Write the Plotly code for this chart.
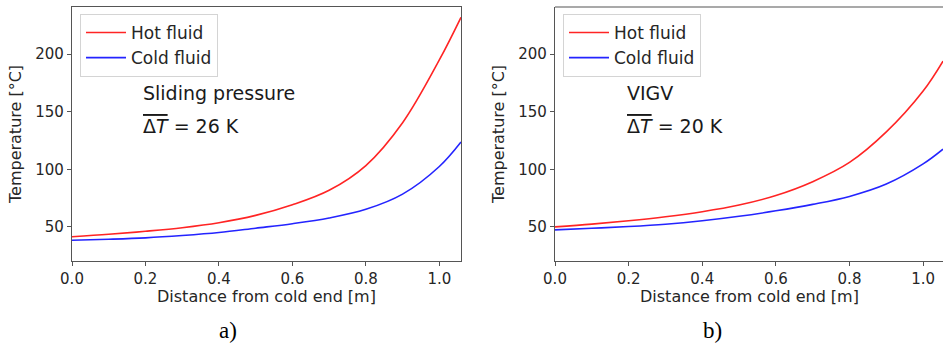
import plotly.graph_objects as go

# ---- data ----
x_a = [0.0, 0.1, 0.2, 0.3, 0.4, 0.5, 0.6, 0.7, 0.8, 0.9, 1.0, 1.059]
hot_a = [41.5, 43.6, 46.2, 49.3, 53.6, 60.0, 69.2, 81.8, 103.3, 140.5, 195.0, 232.0]
cold_a = [38.4, 39.3, 40.5, 42.5, 45.1, 48.9, 52.8, 57.8, 65.3, 78.5, 102.5, 123.8]

x_b = [0.0, 0.1, 0.2, 0.3, 0.4, 0.5, 0.6, 0.7, 0.8, 0.9, 1.0, 1.054]
hot_b = [50.0, 52.4, 55.3, 58.8, 63.2, 69.0, 77.3, 89.3, 106.0, 132.5, 168.0, 194.0]
cold_b = [47.4, 48.8, 50.3, 52.3, 55.3, 59.2, 64.0, 69.6, 76.5, 87.2, 104.7, 117.5]

labels = ["Sliding pressure", "VIGV"]
dt_vals = [26, 20]
panel_tags = ["a)", "b)"]
x_ticks = [0.0, 0.2, 0.4, 0.6, 0.8, 1.0]
y_ticks = [50, 100, 150, 200]
x_title = "Distance from cold end [m]"
y_title = "Temperature [°C]"

RED = "#ff2424"
BLUE = "#2424ff"
SPINE = "#555555"
TXT = "#262626"
FONT = "DejaVu Sans"

W, H = 943, 345
fig = go.Figure()

def add(x, y, color, name, xa, ya, leg):
    fig.add_trace(go.Scatter(x=x, y=y, mode="lines", line=dict(color=color, width=1.6, shape="spline", smoothing=1.0),
                             name=name, xaxis=xa, yaxis=ya, showlegend=True, legend=leg))

add(x_a, hot_a, RED, "Hot fluid", "x", "y", "legend")
add(x_a, cold_a, BLUE, "Cold fluid", "x", "y", "legend")
add(x_b, hot_b, RED, "Hot fluid", "x2", "y2", "legend2")
add(x_b, cold_b, BLUE, "Cold fluid", "x2", "y2", "legend2")

dom_a = [72 / W, 461 / W]
dom_b = [555 / W, 1.0]
ydom = [1 - 261 / H, 1 - 7 / H]

axis_common = dict(showgrid=False, zeroline=False, showline=True, linecolor=SPINE, linewidth=1.2,
                   ticks="outside", ticklen=4, tickwidth=1, tickcolor=SPINE, automargin=False,
                   tickfont=dict(family=FONT, size=15, color=TXT))
xt = [f"{v:.1f}" for v in x_ticks]

leg_common = dict(xanchor="left", yanchor="top", bgcolor="white", bordercolor="#d4d4d4", borderwidth=1,
                  font=dict(family=FONT, size=17, color=TXT), tracegroupgap=0, itemwidth=40)

fig.update_layout(
    width=W, height=H, margin=dict(l=0, r=0, t=0, b=0),
    paper_bgcolor="white", plot_bgcolor="white",
    font=dict(family=FONT, color=TXT),
    xaxis=dict(domain=dom_a, range=[0, 1.059], tickvals=x_ticks, ticktext=xt, mirror=True, anchor="y", **axis_common),
    yaxis=dict(domain=ydom, range=[20.4, 241], tickvals=y_ticks, mirror=True, anchor="x", **axis_common),
    xaxis2=dict(domain=dom_b, range=[0, 1.054], tickvals=x_ticks, ticktext=xt, mirror=False, anchor="y2", **axis_common),
    yaxis2=dict(domain=ydom, range=[20.4, 241], tickvals=y_ticks, mirror=False, anchor="x2", **axis_common),
    legend=dict(x=80 / W, y=1 - 14 / H, **leg_common),
    legend2=dict(x=563 / W, y=1 - 14 / H, **leg_common),
)

# top spine for panel b (right spine is cut off in the reference)
fig.add_shape(type="line", xref="paper", yref="paper", x0=dom_b[0], x1=1.0, y0=ydom[1], y1=ydom[1],
              line=dict(color=SPINE, width=1.2))

ann_x = [141 / W, 625 / W]
xt_c = [(dom_a[0] + dom_a[1]) / 2, (dom_b[0] + dom_b[1]) / 2]
yt_x = [15 / W, 498 / W]
tag_x = [228 / W, 712 / W]
for i in range(2):
    fig.add_annotation(xref="paper", yref="paper", x=ann_x[i], y=1 - 93 / H, xanchor="left", yanchor="middle",
                       text=labels[i], showarrow=False, font=dict(family=FONT, size=19, color="#1a1a1a"))
    fig.add_annotation(xref="paper", yref="paper", x=ann_x[i], y=1 - 126 / H, xanchor="left", yanchor="middle",
                       text=f"<span style='text-decoration:overline'>Δ<i>T</i></span> = {dt_vals[i]} K",
                       showarrow=False, font=dict(family=FONT, size=19, color="#1a1a1a"))
    fig.add_annotation(xref="paper", yref="paper", x=xt_c[i], y=1 - 296 / H, xanchor="center", yanchor="middle",
                       text=x_title, showarrow=False, font=dict(family=FONT, size=16, color=TXT))
    fig.add_annotation(xref="paper", yref="paper", x=yt_x[i], y=1 - 135 / H, xanchor="center", yanchor="middle",
                       text=y_title, textangle=-90, showarrow=False, font=dict(family=FONT, size=16, color=TXT))
    fig.add_annotation(xref="paper", yref="paper", x=tag_x[i], y=1 - 330 / H,
                       xanchor="center", yanchor="middle", text=panel_tags[i], showarrow=False,
                       font=dict(family="Liberation Serif", size=23, color="black"))

fig.write_html("out.html")
